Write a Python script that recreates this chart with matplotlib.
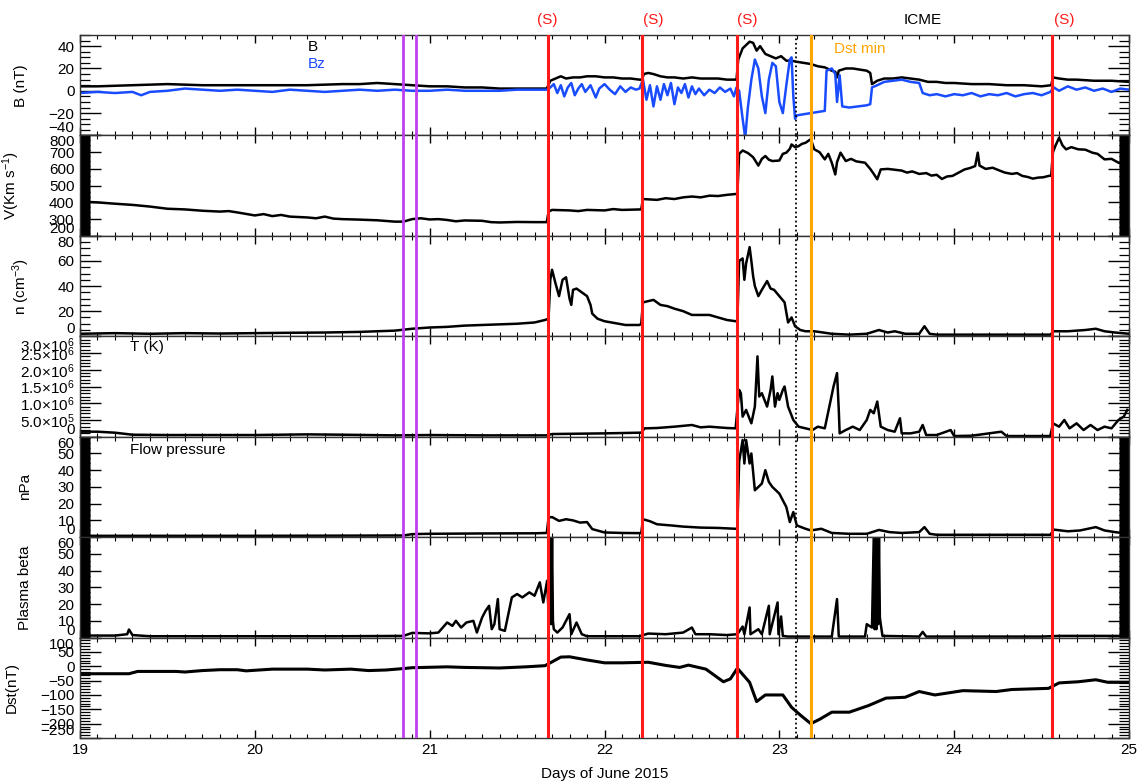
import matplotlib
matplotlib.use('Agg')
import matplotlib.pyplot as plt
from matplotlib.ticker import MultipleLocator

plt.rcParams['font.family'] = ['Liberation Sans', 'DejaVu Sans']
plt.rcParams['mathtext.fontset'] = 'custom'
plt.rcParams['mathtext.rm'] = 'Liberation Sans'
plt.rcParams['mathtext.it'] = 'Liberation Sans:italic'

# ---- data (days of June 2015) ----
b_t = [19.0, 19.1, 19.3, 19.5, 19.7, 19.9, 20.1, 20.3, 20.5, 20.6, 20.7, 20.8, 20.9, 21.0, 21.1, 21.2,
       21.3, 21.4, 21.5, 21.6, 21.67, 21.69, 21.72, 21.75, 21.78, 21.82, 21.86, 21.9, 21.95, 22.0, 22.05,
       22.1, 22.15, 22.2, 22.215, 22.225, 22.25, 22.28, 22.32, 22.36, 22.4, 22.45, 22.5, 22.55, 22.6,
       22.65, 22.7, 22.755, 22.765, 22.79, 22.81, 22.83, 22.85, 22.87, 22.89, 22.92, 22.95, 22.98, 23.01,
       23.04, 23.07, 23.1, 23.14, 23.18, 23.22, 23.26, 23.3, 23.32, 23.33, 23.34, 23.38, 23.42, 23.46,
       23.5, 23.52, 23.53, 23.56, 23.6, 23.65, 23.7, 23.75, 23.8, 23.85, 23.9, 23.95, 24.0, 24.1, 24.2,
       24.3, 24.4, 24.5, 24.555, 24.565, 24.6, 24.65, 24.7, 24.8, 24.9, 25.0]
b_v = [4, 4, 5, 6, 5, 5, 5, 5, 6, 6, 7, 6, 5, 4, 4, 3,
       3, 2, 2, 2, 2, 9, 11, 13, 11, 12, 12, 13, 13, 12, 12,
       11, 11, 10, 10, 15, 16, 15, 13, 12, 12, 11, 12, 11, 11,
       11, 10, 10, 28, 38, 41, 44, 43, 36, 40, 33, 31, 29, 31,
       27, 27, 26, 25, 24, 22, 21, 18, 17, 12, 18, 20, 20, 19,
       18, 16, 6, 9, 11, 11, 12, 11, 10, 8, 8, 7, 7, 6, 6,
       5, 5, 4, 5, 12, 11, 10, 10, 9, 9, 8]

bz_t = [19.0, 19.1, 19.2, 19.3, 19.35, 19.4, 19.5, 19.6, 19.7, 19.8, 19.9, 20.0, 20.1, 20.2, 20.3, 20.4,
        20.5, 20.6, 20.7, 20.8, 20.9, 21.0, 21.1, 21.2, 21.3, 21.4, 21.5, 21.6, 21.67,
        21.69, 21.71, 21.73, 21.75, 21.77, 21.79, 21.81, 21.83, 21.85, 21.87, 21.89, 21.92, 21.95, 21.97,
        22.0, 22.03, 22.06, 22.09, 22.12, 22.15, 22.18, 22.2,
        22.22, 22.24, 22.26, 22.28, 22.3, 22.32, 22.34, 22.36, 22.38, 22.4, 22.42, 22.44, 22.46, 22.48,
        22.5, 22.52, 22.54, 22.57, 22.6, 22.63, 22.66, 22.69, 22.72, 22.74, 22.755,
        22.77, 22.79, 22.805, 22.82, 22.84, 22.86, 22.88, 22.9, 22.92, 22.94, 22.96, 22.98, 23.0, 23.02,
        23.04, 23.06, 23.07, 23.08, 23.09, 23.1, 23.14, 23.18, 23.22, 23.26, 23.27, 23.3, 23.32, 23.33,
        23.345, 23.36, 23.4, 23.45, 23.5, 23.52, 23.53, 23.56, 23.6, 23.65, 23.7, 23.75, 23.8, 23.82,
        23.86, 23.9, 23.95, 24.0, 24.05, 24.1, 24.15, 24.2, 24.25, 24.3, 24.35, 24.4, 24.45, 24.5, 24.55,
        24.57, 24.6, 24.65, 24.7, 24.75, 24.8, 24.85, 24.9, 24.95, 25.0]
bz_v = [-2, -1, -2, -1, -4, -1, 0, 2, 1, 0, 1, 0, -1, 1, 0, -1,
        0, 1, 0, 1, 0, 0, 1, 0, 0, 0, 1, 1, 1,
        3, 6, -2, 5, -5, 3, 7, -4, 2, 6, -1, 5, -6, 2,
        6, 1, -3, 4, -1, 3, 1, 2,
        10, -8, 5, -14, 4, -8, 6, -4, 7, -12, 3, -2, 6, -6,
        4, -3, 2, -4, 1, -2, 3, -1, 2, -5, 3,
        0, -25, -42, -15, 10, 28, 20, -5, -20, 10, 25, 22, -10, -20,
        5, 28, 30, -5, -25, -22, -21, -20, -19, -18, 18, 20, 15, -10,
        14, -14, -15, -14, -13, -12, 3, 5, 8, 9, 10, 8, 7, -2,
        -4, -3, -5, -3, -4, -2, -5, -3, -4, -2, -5, -3, -2, -4, -1,
        3, 0, 4, 1, 3, 0, 2, -1, 2, 1]

v_t = [19.0, 19.1, 19.2, 19.3, 19.4, 19.5, 19.6, 19.7, 19.8, 19.85, 19.9, 20.0, 20.05, 20.1, 20.15,
       20.2, 20.3, 20.35, 20.4, 20.45, 20.5, 20.6, 20.7, 20.8, 20.85, 20.9, 20.95, 21.0, 21.05, 21.1,
       21.15, 21.2, 21.3, 21.35, 21.4, 21.5, 21.6, 21.67, 21.68, 21.7, 21.8, 21.85, 21.9, 22.0, 22.05,
       22.1, 22.2, 22.21, 22.22, 22.3, 22.35, 22.4, 22.45, 22.5, 22.55, 22.6, 22.65, 22.7, 22.75, 22.76,
       22.77, 22.79, 22.82, 22.85, 22.88, 22.9, 22.92, 22.94, 22.96, 23.0, 23.02, 23.04, 23.06, 23.07,
       23.09, 23.11, 23.13, 23.15, 23.18, 23.2, 23.23, 23.26, 23.28, 23.3, 23.32, 23.33, 23.35, 23.38,
       23.41, 23.44, 23.47, 23.49, 23.52, 23.54, 23.56, 23.58, 23.62, 23.66, 23.7, 23.73, 23.76, 23.8,
       23.84, 23.87, 23.9, 23.93, 23.96, 23.99, 24.03, 24.06, 24.09, 24.12, 24.135, 24.145, 24.18, 24.22,
       24.26, 24.29, 24.33, 24.36, 24.39, 24.42, 24.45, 24.48, 24.51, 24.54, 24.555, 24.565, 24.58, 24.6,
       24.62, 24.64, 24.67, 24.71, 24.75, 24.79, 24.82, 24.86, 24.9, 24.94, 25.0]
v_v = [405, 400, 392, 385, 375, 362, 358, 350, 345, 348, 340, 322, 330, 318, 325,
       315, 310, 305, 315, 303, 300, 297, 293, 285, 285, 300, 305, 298, 300, 295,
       287, 292, 290, 282, 280, 283, 282, 282, 345, 355, 352, 348, 355, 352, 360,
       355, 358, 358, 420, 415, 425, 420, 430, 435, 430, 440, 438, 445, 450, 450,
       690, 710, 695, 670, 620, 660, 677, 655, 647, 650, 690, 697, 720, 746,
       730, 736, 750, 756, 778, 717, 700, 657, 690, 637, 567, 640, 697, 647,
       660, 645, 640, 637, 600, 570, 538, 597, 600, 595, 590, 578, 585, 570,
       575, 560, 565, 540, 555, 558, 580, 597, 605, 617, 697, 620, 600, 607,
       590, 578, 570, 575, 558, 552, 542, 548, 550, 558, 560, 700, 740, 786,
       740, 717, 730, 717, 715, 697, 690, 657, 660, 637, 617]

n_t = [19.0, 19.2, 19.4, 19.6, 19.8, 20.0, 20.2, 20.4, 20.6, 20.8, 20.9, 21.0, 21.1, 21.2, 21.3, 21.4,
       21.5, 21.6, 21.66, 21.68, 21.69, 21.7, 21.72, 21.74, 21.76, 21.78, 21.8, 21.81, 21.82, 21.84,
       21.86, 21.88, 21.9, 21.92, 21.93, 21.96, 22.0, 22.04, 22.08, 22.12, 22.16, 22.2, 22.21, 22.22,
       22.25, 22.28, 22.32, 22.36, 22.4, 22.45, 22.5, 22.55, 22.6, 22.65, 22.7, 22.75, 22.76, 22.77,
       22.79, 22.8, 22.81, 22.83, 22.84, 22.85, 22.86, 22.88, 22.9, 22.93, 22.95, 22.97, 23.0, 23.03,
       23.05, 23.07, 23.09, 23.12, 23.15, 23.2, 23.25, 23.3, 23.4, 23.5, 23.57, 23.62, 23.66, 23.72,
       23.8, 23.83, 23.86, 23.9, 24.0, 24.2, 24.4, 24.55, 24.57, 24.65, 24.75, 24.81, 24.86, 24.92, 25.0]
n_v = [2, 2.5, 2, 2.5, 2.2, 2.5, 2.8, 3, 3.5, 4.5, 6, 7, 7.5, 8.5, 9, 9.5,
       10, 11, 13, 14, 45, 53, 42, 32, 45, 47, 30, 25, 37, 38,
       36, 34, 32, 25, 18, 14, 12, 11, 10, 9, 9, 9, 10, 27,
       28, 29, 25, 24, 22, 20, 17, 17, 17, 15, 13, 12, 12, 60,
       62, 45, 58, 71, 60, 48, 40, 32, 37, 44, 38, 37, 32, 27,
       11, 15, 8, 5, 4, 4, 3, 2, 1.3, 2, 5, 3, 4, 2,
       2, 8, 2, 1.3, 1.3, 1.3, 1.3, 1.3, 4, 4, 5, 6, 4, 3, 2]

temp_t = [19.0, 19.1, 19.2, 19.3, 19.5, 19.7, 20.0, 20.3, 20.5, 20.8, 21.0, 21.3, 21.5, 21.67, 21.7,
          22.0, 22.2, 22.21, 22.23, 22.3, 22.4, 22.5, 22.55, 22.6, 22.7, 22.75, 22.77, 22.78, 22.79,
          22.81, 22.84, 22.86, 22.875, 22.885, 22.9, 22.93, 22.95, 22.96, 22.975, 22.99, 23.0, 23.02,
          23.03, 23.05, 23.08, 23.11, 23.15, 23.19, 23.22, 23.26, 23.29, 23.31, 23.33, 23.34, 23.345,
          23.38, 23.42, 23.46, 23.5, 23.52, 23.54, 23.56, 23.58, 23.62, 23.66, 23.69, 23.7, 23.75, 23.8,
          23.82, 23.84, 23.9, 23.98, 24.0, 24.1, 24.27, 24.3, 24.4, 24.55, 24.565, 24.6, 24.63, 24.66,
          24.7, 24.74, 24.78, 24.82, 24.86, 24.9, 24.94, 24.97, 24.99]
temp_v = [1.5e5, 1.5e5, 1.2e5, 0.6e5, 0.5e5, 0.5e5, 0.5e5, 0.7e5, 0.6e5, 0.4e5, 0.5e5, 0.4e5, 0.4e5,
          0.4e5, 0.8e5, 1.0e5, 1.2e5, 1.2e5, 2.5e5, 2.6e5, 3.0e5, 3.5e5, 2.8e5, 3.0e5, 2.6e5, 2.5e5,
          1.4e6, 1.3e6, 6e5, 8e5, 4e5, 9e5, 2.4e6, 1.2e6, 1.3e6, 9e5, 1.4e6, 1.8e6, 9e5, 1.3e6, 1.1e6,
          1.4e6, 1.5e6, 9e5, 5e5, 3e5, 2.5e5, 2e5, 3e5, 2.5e5, 1.0e6, 1.5e6, 1.9e6, 8e5, 1e5,
          2e5, 3e5, 2e5, 5e5, 8e5, 7e5, 1.05e6, 3e5, 2e5, 1.5e5, 5.5e5, 1e5, 1e5, 1.5e5,
          3.5e5, 0.5e5, 0.5e5, 2e5, 0.2e5, 0.3e5, 1.5e5, 0.2e5, 0.2e5, 0.2e5, 4e5, 3e5, 5e5, 2.5e5,
          4e5, 2e5, 3.5e5, 2e5, 3e5, 2.5e5, 5e5, 6e5, 8e5]

p_t = [19.0, 19.5, 20.0, 20.5, 20.85, 20.9, 21.0, 21.3, 21.6, 21.67, 21.68, 21.7, 21.74, 21.78, 21.82,
       21.86, 21.9, 21.93, 22.0, 22.1, 22.2, 22.21, 22.22, 22.26, 22.3, 22.38, 22.45, 22.55, 22.65, 22.75,
       22.76, 22.77, 22.79, 22.8, 22.81, 22.83, 22.84, 22.86, 22.88, 22.9, 22.92, 22.94, 22.96, 23.0,
       23.03, 23.04, 23.06, 23.08, 23.1, 23.15, 23.18, 23.24, 23.3, 23.4, 23.5, 23.57, 23.63, 23.7, 23.8,
       23.83, 23.86, 23.9, 24.0, 24.2, 24.55, 24.57, 24.65, 24.72, 24.81, 24.86, 24.92, 25.0]
p_v = [0.8, 0.8, 0.8, 0.9, 1, 1.8, 2, 2.2, 2.3, 2.5, 11.7, 12, 9.7, 10.7, 10,
       8.7, 9, 4.8, 2.8, 2.5, 2.4, 2.4, 10.7, 9.5, 7.7, 7, 6.3, 5.7, 5.5, 5,
       5, 45, 58, 44, 58, 44, 50, 28, 30, 32, 40, 33, 30, 26,
       20, 18, 9, 15, 7, 5, 4, 5, 2.5, 2, 2, 4.3, 3, 2.5, 3,
       6, 2, 1.4, 1.4, 1.4, 1.4, 4.5, 3.5, 4, 6, 4, 3, 2]

beta_t = [19.0, 19.2, 19.27, 19.28, 19.3, 19.4, 20.0, 20.5, 20.85, 20.9, 21.0, 21.05, 21.1, 21.13,
          21.15, 21.18, 21.21, 21.25, 21.27, 21.3, 21.32, 21.34, 21.355, 21.37, 21.39, 21.4, 21.43, 21.47,
          21.5, 21.53, 21.57, 21.6, 21.63, 21.65, 21.672, 21.68, 21.69, 21.695, 21.7, 21.705, 21.71,
          21.73, 21.76, 21.8, 21.81, 21.84, 21.87, 21.9, 22.2, 22.25, 22.35, 22.45, 22.5, 22.52, 22.6,
          22.7, 22.76, 22.79, 22.8, 22.83, 22.835, 22.88, 22.9, 22.94, 22.945, 22.99, 22.995, 23.01,
          23.02, 23.05, 23.3, 23.33, 23.34, 23.49, 23.5, 23.53, 23.54, 23.545, 23.55, 23.555, 23.56,
          23.565, 23.57, 23.575, 23.58, 23.59, 23.8, 23.82, 23.84, 24.5, 24.6, 25.0]
beta_v = [1.2, 1.2, 2, 4.8, 1.5, 0.8, 0.8, 0.8, 1, 2.8, 2.5, 3, 9, 7,
          10, 6, 9, 10, 3, 12, 16, 19, 5, 8, 23, 5, 4, 24,
          26, 24, 27, 25, 33, 21, 34, 15, 60, 8, 60, 10, 5,
          3, 6, 14, 2, 9, 2, 0.8, 0.8, 2.4, 2, 3, 6, 2, 2,
          1.5, 2, 6.6, 2, 18, 2, 5, 2, 19, 2, 21, 2, 12.6,
          1, 0.6, 0.6, 23, 0.6, 0.6, 8, 6, 60, 5, 60, 5, 60,
          8, 60, 12, 8, 1, 0.6, 3.4, 0.6, 0.6, 1, 1]

dst_t = [19.0, 19.28, 19.33, 19.55, 19.6, 19.7, 19.8, 19.9, 19.95, 20.1, 20.3, 20.4, 20.55, 20.65,
         20.75, 20.85, 20.9, 21.1, 21.2, 21.4, 21.55, 21.66, 21.75, 21.8, 21.9, 22.0, 22.1, 22.25, 22.35,
         22.43, 22.48, 22.58, 22.68, 22.72, 22.76, 22.8, 22.83, 22.87, 22.92, 23.02, 23.07, 23.12, 23.18,
         23.23, 23.3, 23.4, 23.51, 23.61, 23.72, 23.8, 23.89, 24.05, 24.24, 24.33, 24.54, 24.6, 24.71,
         24.81, 24.88, 25.0]
dst_v = [-26, -26, -18, -18, -20, -15, -12, -12, -16, -10, -10, -13, -10, -15,
         -13, -8, -5, -2, -4, -6, -2, 2, 32, 33, 22, 12, 12, 14, 3,
         -4, 4, -10, -54, -44, -7, -35, -56, -123, -100, -100, -143, -170, -200,
         -185, -160, -160, -137, -111, -108, -88, -100, -85, -88, -81, -77, -58, -54,
         -47, -56, -56]

shock_days = [21.674, 22.217, 22.76, 24.56]
shock_label_days = [21.67, 22.28, 22.815, 24.63]
purple_days = [20.85, 20.92]
icme_start = 23.095
dst_min_day = 23.18

t_labels = ['0', r'$\mathregular{5.0{\times}10^{5}}$', r'$\mathregular{1.0{\times}10^{6}}$',
            r'$\mathregular{1.5{\times}10^{6}}$', r'$\mathregular{2.0{\times}10^{6}}$',
            r'$\mathregular{2.5{\times}10^{6}}$', r'$\mathregular{3.0{\times}10^{6}}$']

# ---- layout ----
W, H = 1144, 784
fig = plt.figure(figsize=(W / 100, H / 100), dpi=100)
x0, x1 = 80, 1129
y_top, y_bot = 35, 738
ph = (y_bot - y_top) / 7.0

panels = [
    # ylabel, ylim, major ticks, minor step, label x
    ('B (nT)', (-40, 50), [-40, -20, 0, 20, 40], 5, -0.050),
    (r'V(Km s$\mathregular{^{-1}}$)', (200, 800), list(range(200, 801, 100)), 5, -0.055),
    (r'n (cm$\mathregular{^{-3}}$)', (0, 80), [0, 20, 40, 60, 80], 5, -0.046),
    ('', (0, 3.0e6), [0, 5e5, 1e6, 1.5e6, 2e6, 2.5e6, 3e6], 1e5, -0.05),
    ('nPa', (0, 60), list(range(0, 61, 10)), 0.5, -0.046),
    ('Plasma beta', (0, 60), list(range(0, 61, 10)), 0.5, -0.046),
    ('Dst(nT)', (-250, 100), list(range(-250, 101, 50)), 10, -0.058),
]

axes = []
for i, (ylab, ylim, ticks, mstep, lx) in enumerate(panels):
    top = y_top + i * ph
    ax = fig.add_axes([x0 / W, 1 - (top + ph) / H, (x1 - x0) / W, ph / H])
    ax.set_xlim(19, 25)
    ax.set_ylim(*ylim)
    ax.set_yticks(ticks)
    ax.yaxis.set_minor_locator(MultipleLocator(mstep))
    ax.xaxis.set_major_locator(MultipleLocator(1))
    ax.xaxis.set_minor_locator(MultipleLocator(0.1))
    ax.tick_params(axis='both', which='both', direction='in', top=True, right=True,
                   labelsize=11, colors='black')
    ax.tick_params(axis='y', which='major', length=15, width=1.0, pad=4)
    ax.tick_params(axis='y', which='minor', length=7.5, width=0.9)
    ax.tick_params(axis='x', which='major', length=6, width=1.0)
    ax.tick_params(axis='x', which='minor', length=3, width=0.8)
    if i == 3:
        ax.set_yticklabels(t_labels)
    for s in ax.spines.values():
        s.set_linewidth(1.0)
        s.set_color('#333333')
    if i < 6:
        ax.tick_params(axis='x', labelbottom=False)
    if ylab:
        ax.set_ylabel(ylab, fontsize=11)
        ax.yaxis.set_label_coords(lx, 0.5)
    axes.append(ax)

# edge labels pulled inside the panel like the original
for i, ax in enumerate(axes):
    ticks = ax.yaxis.get_major_ticks()
    ticks[0].label1.set_va('bottom')
    if i != 0:
        ticks[-1].label1.set_va('top')

lw = 1.8
axes[0].plot(b_t, b_v, color='black', lw=lw)
axes[0].plot(bz_t, bz_v, color='#1a4cff', lw=lw)
axes[1].plot(v_t, v_v, color='black', lw=lw)
axes[2].plot(n_t, n_v, color='black', lw=lw)
axes[3].plot(temp_t, temp_v, color='black', lw=lw)
axes[4].plot(p_t, p_v, color='black', lw=lw)
axes[5].plot(beta_t, beta_v, color='black', lw=lw)
axes[6].plot(dst_t, dst_v, color='black', lw=2.2)

for ax in axes:
    for d in purple_days:
        ax.axvline(d, color='#c040f0', lw=2, zorder=5)
    for d in shock_days:
        ax.axvline(d, color='#ff1a1a', lw=2.2, zorder=5)
    ax.axvline(icme_start, color='black', lw=1.3, ls=(0, (1, 1.5)), zorder=5)
    ax.axvline(dst_min_day, color='#ffa500', lw=2.2, zorder=5)

axes[6].set_xticks([19, 20, 21, 22, 23, 24, 25])
axes[6].set_xlabel('Days of June 2015', fontsize=11, labelpad=7)

# annotations
top_tr = axes[0].get_xaxis_transform()
axes[0].text(0.217, 0.88, 'B', color='black', fontsize=11, transform=axes[0].transAxes, va='center')
axes[0].text(0.217, 0.71, 'Bz', color='#1a4cff', fontsize=11, transform=axes[0].transAxes, va='center')
axes[0].text(23.31, 0.86, 'Dst min', color='#ffa500', fontsize=11, va='center', transform=top_tr)
axes[3].text(0.048, 0.89, 'T (K)', fontsize=11, transform=axes[3].transAxes, va='center')
axes[4].text(0.048, 0.87, 'Flow pressure', fontsize=11, transform=axes[4].transAxes, va='center')
for d in shock_label_days:
    axes[0].text(d, 1.15, '(S)', color='#ff1a1a', fontsize=11, ha='center', va='center',
                 transform=top_tr)
axes[0].text(23.82, 1.15, 'ICME', color='black', fontsize=11, ha='center', va='center',
             transform=top_tr)

fig.savefig('out.png', dpi=100)
